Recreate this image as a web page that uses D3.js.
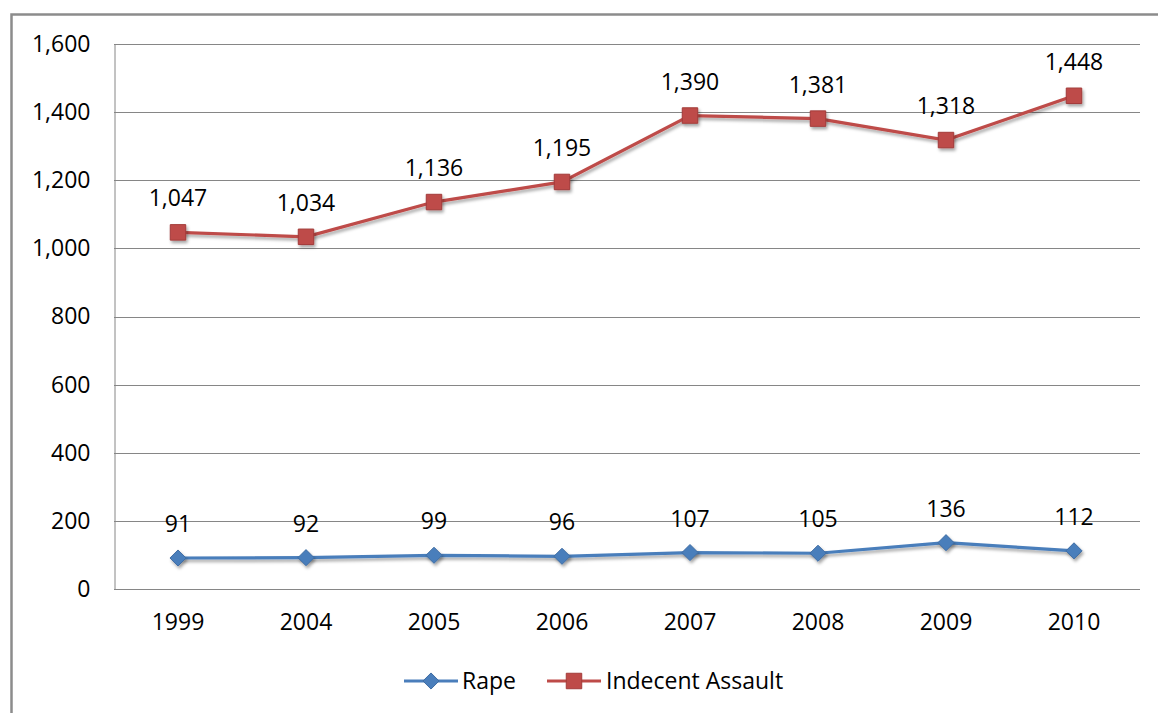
<!DOCTYPE html>
<html>
<head>
<meta charset="utf-8">
<script src="https://cdn.jsdelivr.net/npm/d3@7"></script>
<style>
  body { margin: 0; background: #fff; }
  text { font-family: "Open Sans", Lato, sans-serif; fill: #000; }
</style>
</head>
<body>
<svg id="chart"></svg>
<script>
const years = ["1999", "2004", "2005", "2006", "2007", "2008", "2009", "2010"];
const rape = [91, 92, 99, 96, 107, 105, 136, 112];
const indecentAssault = [1047, 1034, 1136, 1195, 1390, 1381, 1318, 1448];
const yTicks = [0, 200, 400, 600, 800, 1000, 1200, 1400, 1600];

const width = 1158;
const height = 713;
const margin = { top: 44, right: 20, bottom: 124, left: 114 };
const gridColor = "#868686";
const fontSize = "23px";

// square diamond (rotated square) like the office marker
const diamond = {
  draw(ctx, size) {
    const r = Math.sqrt(size / 2);
    ctx.moveTo(0, -r);
    ctx.lineTo(r, 0);
    ctx.lineTo(0, r);
    ctx.lineTo(-r, 0);
    ctx.closePath();
  }
};

const series = [
  { name: "Rape", values: rape, color: "#4a7ebb", stroke: "#3e6ca3", shape: diamond, size: 130 },
  { name: "Indecent Assault", values: indecentAssault, color: "#be4b48", stroke: "#a33c3a", shape: d3.symbolSquare, size: 240 }
];

const svg = d3.select("#chart")
  .attr("width", width)
  .attr("height", height);

const defs = svg.append("defs");
const filter = defs.append("filter").attr("id", "shadow")
  .attr("x", "-50%").attr("y", "-50%").attr("width", "200%").attr("height", "200%");
filter.append("feDropShadow")
  .attr("dx", 1.5).attr("dy", 2.5).attr("stdDeviation", 1.8)
  .attr("flood-color", "#000").attr("flood-opacity", 0.35);

// outer frame
svg.append("path")
  .attr("d", `M11.5,${height}V14.5H${width}`)
  .attr("fill", "none")
  .attr("stroke", "#8c8c8c")
  .attr("stroke-width", 2.5);

const x = d3.scaleBand()
  .domain(years)
  .range([margin.left, 1138]);

const y = d3.scaleLinear()
  .domain([0, 1600])
  .range([589, margin.top]);

// gridlines
svg.append("g")
  .selectAll("line")
  .data(yTicks.filter(d => d > 0))
  .enter().append("line")
  .attr("x1", margin.left)
  .attr("x2", 1140)
  .attr("y1", d => Math.round(y(d)) + 0.5)
  .attr("y2", d => Math.round(y(d)) + 0.5)
  .attr("stroke", gridColor)
  .attr("stroke-width", 1);

// y axis
const yAxis = svg.append("g")
  .attr("transform", `translate(${margin.left + 0.5},0)`)
  .call(d3.axisLeft(y).tickValues(yTicks).tickSize(0).tickPadding(24).tickFormat(d3.format(",")));
yAxis.select(".domain").attr("stroke", gridColor);
yAxis.selectAll(".tick text")
  .style("font-size", fontSize)
  .attr("fill", "#000");

// x axis
const xAxis = svg.append("g")
  .attr("transform", `translate(0,${Math.round(y(0)) + 0.5})`)
  .call(d3.axisBottom(x).tickSize(0).tickPadding(24));
xAxis.select(".domain").attr("stroke", gridColor).attr("d", `M${margin.left},0H1140`);
xAxis.selectAll(".tick text")
  .style("font-size", fontSize)
  .attr("fill", "#000");

const cx = d => x(d) + x.bandwidth() / 2;

const line = d3.line()
  .x((d, i) => cx(years[i]))
  .y(d => y(d));

series.forEach(s => {
  const g = svg.append("g");

  g.append("path")
    .datum(s.values)
    .attr("d", line)
    .attr("fill", "none")
    .attr("stroke", s.color)
    .attr("stroke-width", 3.2)
    .attr("filter", "url(#shadow)");

  g.selectAll(".marker")
    .data(s.values)
    .enter().append("path")
    .attr("class", "marker")
    .attr("d", d3.symbol().type(s.shape).size(s.size))
    .attr("transform", (d, i) => `translate(${cx(years[i])},${y(d)})`)
    .attr("fill", s.color)
    .attr("stroke", s.stroke)
    .attr("stroke-width", 1)
    .attr("filter", "url(#shadow)");

  g.selectAll(".label")
    .data(s.values)
    .enter().append("text")
    .attr("class", "label")
    .attr("x", (d, i) => cx(years[i]))
    .attr("y", d => y(d) - 34)
    .attr("dy", "0.35em")
    .attr("text-anchor", "middle")
    .style("font-size", fontSize)
    .text(d => d3.format(",")(d));
});

// legend
const legendItems = [
  { s: series[0], x0: 404, tx: 462 },
  { s: series[1], x0: 547, tx: 606 }
];
const legendY = 681;
legendItems.forEach(item => {
  const g = svg.append("g");
  g.append("line")
    .attr("x1", item.x0).attr("x2", item.x0 + 54)
    .attr("y1", legendY).attr("y2", legendY)
    .attr("stroke", item.s.color)
    .attr("stroke-width", 3.2);
  g.append("path")
    .attr("d", d3.symbol().type(item.s.shape).size(item.s.size))
    .attr("transform", `translate(${item.x0 + 27},${legendY})`)
    .attr("fill", item.s.color)
    .attr("stroke", item.s.stroke)
    .attr("stroke-width", 1);
  g.append("text")
    .attr("x", item.tx)
    .attr("y", legendY)
    .attr("dy", "0.35em")
    .style("font-size", fontSize)
    .text(item.s.name);
});
</script>
</body>
</html>
